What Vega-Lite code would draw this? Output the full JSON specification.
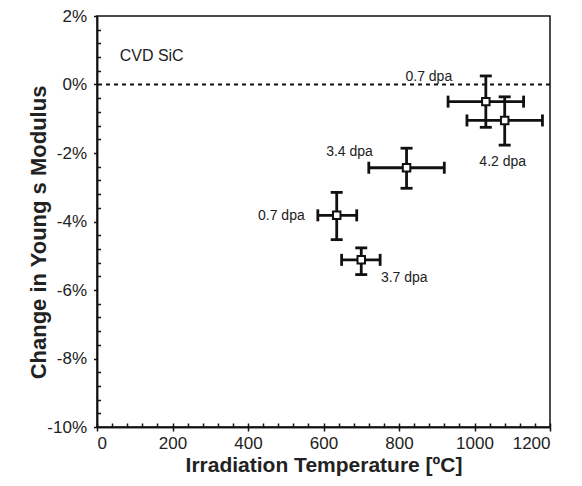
{
  "$schema": "https://vega.github.io/schema/vega-lite/v6.json",
  "width": 453,
  "height": 411,
  "autosize": "none",
  "padding": {"left": 97, "top": 16, "right": 32, "bottom": 59},
  "background": "white",
  "config": {
    "font": "Liberation Sans",
    "view": {"stroke": "#111", "strokeWidth": 1.5},
    "axis": {"grid": false, "domainColor": "#111", "domainWidth": 1.5, "tickColor": "#111", "tickWidth": 1.5, "labelColor": "#222", "titleColor": "#222", "labelFont": "Liberation Sans", "titleFont": "Liberation Sans"}
  },
  "datasets": {
    "points": [
      {"id": "A", "label": "0.7 dpa", "temp": 1030, "temp_lo": 930, "temp_hi": 1130, "dE": -0.5, "dE_lo": -1.25, "dE_hi": 0.25},
      {"id": "B", "label": "4.2 dpa", "temp": 1080, "temp_lo": 980, "temp_hi": 1180, "dE": -1.05, "dE_lo": -1.77, "dE_hi": -0.36},
      {"id": "C", "label": "3.4 dpa", "temp": 820, "temp_lo": 720, "temp_hi": 920, "dE": -2.43, "dE_lo": -3.03, "dE_hi": -1.86},
      {"id": "D", "label": "0.7 dpa", "temp": 635, "temp_lo": 585, "temp_hi": 688, "dE": -3.82, "dE_lo": -4.53, "dE_hi": -3.15},
      {"id": "E", "label": "3.7 dpa", "temp": 700, "temp_lo": 648, "temp_hi": 750, "dE": -5.12, "dE_lo": -5.55, "dE_hi": -4.77}
    ],
    "reference": [{"zero": 0}],
    "note": [{"material": "CVD SiC", "temp": 60, "dE": 0.82}]
  },
  "data": {"name": "points"},
  "layer": [
    {
      "data": {"name": "reference"},
      "mark": {"type": "rule", "strokeDash": [4, 4], "strokeWidth": 2, "color": "#111"},
      "encoding": {
        "y": {"field": "zero", "type": "quantitative", "scale": {"domain": [-10, 2], "nice": false, "zero": false}, "axis": null}
      }
    },
    {
      "mark": {"type": "rule", "strokeWidth": 2.8, "color": "#111"},
      "encoding": {
        "x": {"field": "temp_lo", "type": "quantitative", "scale": {"domain": [0, 1200], "nice": false, "zero": false},
              "axis": {"orient": "bottom", "values": [0,40,80,120,160,200,240,280,320,360,400,440,480,520,560,600,640,680,720,760,800,840,880,920,960,1000,1040,1080,1120,1160,1200], "tickSize": -4, "labels": false, "title": null}},
        "x2": {"field": "temp_hi"},
        "y": {"field": "dE", "type": "quantitative", "scale": {"domain": [-10, 2], "nice": false, "zero": false},
              "axis": {"orient": "left", "values": [-9.6,-9.2,-8.8,-8.4,-7.6,-7.2,-6.8,-6.4,-5.6,-5.2,-4.8,-4.4,-3.6,-3.2,-2.8,-2.4,-1.6,-1.2,-0.8,-0.4,0.4,0.8,1.2,1.6], "tickSize": -3.5, "labels": false, "title": null}}
      }
    },
    {
      "mark": {"type": "rule", "strokeWidth": 2.8, "color": "#111"},
      "encoding": {
        "x": {"field": "temp", "type": "quantitative", "axis": null},
        "y": {"field": "dE_lo", "type": "quantitative", "axis": null},
        "y2": {"field": "dE_hi"}
      }
    },
    {
      "mark": {"type": "tick", "orient": "vertical", "size": 12, "thickness": 2.8, "color": "#111", "opacity": 1},
      "encoding": {
        "x": {"field": "temp_lo", "type": "quantitative", "axis": null},
        "y": {"field": "dE", "type": "quantitative", "axis": null}
      }
    },
    {
      "mark": {"type": "tick", "orient": "vertical", "size": 12, "thickness": 2.8, "color": "#111", "opacity": 1},
      "encoding": {
        "x": {"field": "temp_hi", "type": "quantitative", "axis": null},
        "y": {"field": "dE", "type": "quantitative", "axis": null}
      }
    },
    {
      "mark": {"type": "tick", "orient": "horizontal", "size": 12, "thickness": 2.8, "color": "#111", "opacity": 1},
      "encoding": {
        "x": {"field": "temp", "type": "quantitative", "axis": null},
        "y": {"field": "dE_lo", "type": "quantitative", "axis": null}
      }
    },
    {
      "mark": {"type": "tick", "orient": "horizontal", "size": 12, "thickness": 2.8, "color": "#111", "opacity": 1},
      "encoding": {
        "x": {"field": "temp", "type": "quantitative", "axis": null},
        "y": {"field": "dE_hi", "type": "quantitative", "axis": null}
      }
    },
    {
      "mark": {"type": "point", "shape": "square", "size": 56, "filled": true, "fill": "white", "stroke": "#111", "strokeWidth": 2, "opacity": 1},
      "encoding": {
        "x": {"field": "temp", "type": "quantitative",
              "axis": {"orient": "bottom", "values": [0,200,400,600,800,1000,1200], "format": "d", "tickSize": 4, "labelPadding": 4, "labelFontSize": 17, "title": "Irradiation Temperature [ºC]", "titleFontSize": 21, "titleFontWeight": "bold", "titleY": 38, "titleBaseline": "middle"}},
        "y": {"field": "dE", "type": "quantitative",
              "axis": {"orient": "left", "values": [-10,-8,-6,-4,-2,0,2], "labelExpr": "datum.value + '%'", "tickSize": 3.5, "labelPadding": 7, "labelFontSize": 17, "title": "Change in Young s Modulus", "titleFontSize": 22, "titleFontWeight": "bold", "titleX": -59, "titleY": 216, "titleBaseline": "middle"}}
      }
    },
    {
      "transform": [{"filter": "datum.id === 'A'"}],
      "mark": {"type": "text", "fontSize": 14, "color": "#222", "align": "center", "baseline": "middle", "dx": -57, "dy": -25},
      "encoding": {"x": {"field": "temp", "type": "quantitative", "axis": null}, "y": {"field": "dE", "type": "quantitative", "axis": null}, "text": {"field": "label"}}
    },
    {
      "transform": [{"filter": "datum.id === 'B'"}],
      "mark": {"type": "text", "fontSize": 14, "color": "#222", "align": "center", "baseline": "middle", "dx": -2, "dy": 42},
      "encoding": {"x": {"field": "temp", "type": "quantitative", "axis": null}, "y": {"field": "dE", "type": "quantitative", "axis": null}, "text": {"field": "label"}}
    },
    {
      "transform": [{"filter": "datum.id === 'C'"}],
      "mark": {"type": "text", "fontSize": 14, "color": "#222", "align": "center", "baseline": "middle", "dx": -57, "dy": -16},
      "encoding": {"x": {"field": "temp", "type": "quantitative", "axis": null}, "y": {"field": "dE", "type": "quantitative", "axis": null}, "text": {"field": "label"}}
    },
    {
      "transform": [{"filter": "datum.id === 'D'"}],
      "mark": {"type": "text", "fontSize": 14, "color": "#222", "align": "right", "baseline": "middle", "dx": -32, "dy": 1},
      "encoding": {"x": {"field": "temp", "type": "quantitative", "axis": null}, "y": {"field": "dE", "type": "quantitative", "axis": null}, "text": {"field": "label"}}
    },
    {
      "transform": [{"filter": "datum.id === 'E'"}],
      "mark": {"type": "text", "fontSize": 14, "color": "#222", "align": "center", "baseline": "middle", "dx": 43, "dy": 18},
      "encoding": {"x": {"field": "temp", "type": "quantitative", "axis": null}, "y": {"field": "dE", "type": "quantitative", "axis": null}, "text": {"field": "label"}}
    },
    {
      "data": {"name": "note"},
      "mark": {"type": "text", "fontSize": 16, "color": "#222", "align": "left", "baseline": "middle"},
      "encoding": {"x": {"field": "temp", "type": "quantitative", "axis": null}, "y": {"field": "dE", "type": "quantitative", "axis": null}, "text": {"field": "material"}}
    }
  ],
  "resolve": {"axis": {"x": "independent", "y": "independent"}}
}
